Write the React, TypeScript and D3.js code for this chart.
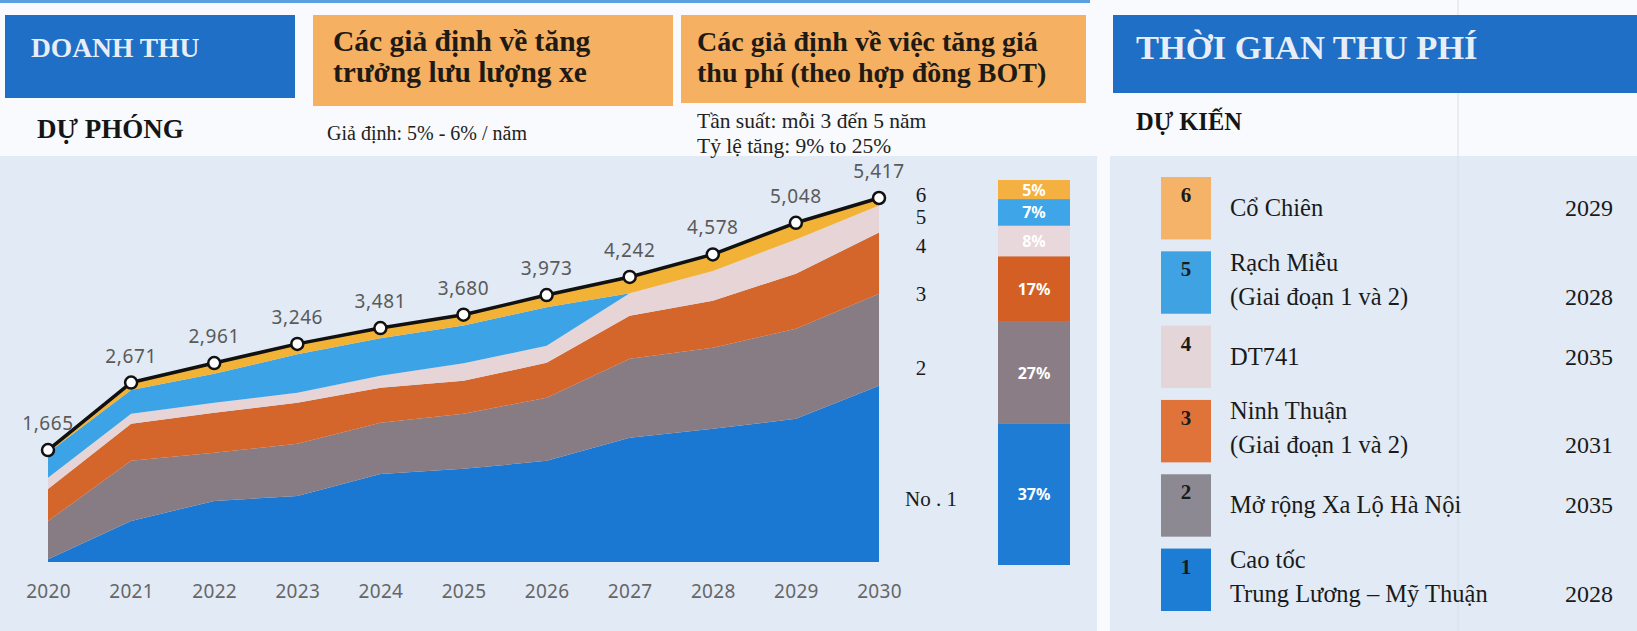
import React, { useEffect, useRef } from "react";
import * as d3 from "d3";

// revenue forecast, stacked by toll project (billion VND)
const years = [2020, 2021, 2022, 2023, 2024, 2025, 2026, 2027, 2028, 2029, 2030];
const totals = [1665, 2671, 2961, 3246, 3481, 3680, 3973, 4242, 4578, 5048, 5417];
const caoToc = [40, 611, 909, 983, 1311, 1386, 1505, 1848, 1982, 2131, 2622];
const xaLo = [571, 894, 715, 775, 760, 819, 939, 1177, 1207, 1341, 1371];
const ninhThuan = [477, 551, 596, 611, 522, 492, 521, 640, 700, 819, 909];
const dt741 = [164, 149, 149, 149, 178, 261, 253, 335, 441, 509, 402];
const rachMieu = [372, 355, 431, 572, 559, 562, 572, 0, 0, 0, 0];
const coChien = [41, 111, 161, 156, 151, 160, 183, 242, 248, 248, 113];

// share of each project (2030 bar), bottom to top
const shareIds = ["1", "2", "3", "4", "5", "6"];
const shares = [37, 27, 17, 8, 7, 5];
const sideLabels = ["No . 1", "2", "3", "4", "5", "6"];

// toll collection schedule (legend on the right)
const projectNames = [
    ["Cổ Chiên"],
    ["Rạch Miễu", "(Giai đoạn 1 và 2)"],
    ["DT741"],
    ["Ninh Thuận", "(Giai đoạn 1 và 2)"],
    ["Mở rộng Xa Lộ Hà Nội"],
    ["Cao tốc", "Trung Lương – Mỹ Thuận"],
];
const projectIds = ["6", "5", "4", "3", "2", "1"];
const projectYears = ["2029", "2028", "2035", "2031", "2035", "2028"];

const keys = ["s1", "s2", "s3", "s4", "s5", "s6"];
const areaColors = ["#1B78D2", "#877C84", "#D4652B", "#E6D4D7", "#3BA3E6", "#F2B236"];
const barColors = ["#1E7CD4", "#8A7D85", "#D35F25", "#E8D8DC", "#3DA5E8", "#F4B040"];
const legendColors: any = { "6": "#F5B36A", "5": "#3FA3E3", "4": "#E4D5D9", "3": "#E0733A", "2": "#8C8992", "1": "#1D7DD4" };

const serif = '"Liberation Serif", "Times New Roman", serif';
const sans = '"Noto Sans", "Open Sans", sans-serif';

function App() {
    const ref = useRef<SVGSVGElement>(null);

    useEffect(() => {
        draw();
    }, []);

    return (
        <div style={{ position: "absolute", left: 0, top: 0 }}>
            <svg ref={ref} width="1637" height="631"></svg>
        </div>
    );

    function draw() {
        var svg = d3.select(ref.current);
        svg.selectAll("*").remove();

        // backgrounds
        svg.append("rect").attr("width", 1637).attr("height", 631).attr("fill", "#F8FAFD");
        svg.append("rect").attr("x", 0).attr("y", 0).attr("width", 1090).attr("height", 3).attr("fill", "#5A9FE0");
        svg.append("rect").attr("x", 0).attr("y", 156).attr("width", 1097).attr("height", 475).attr("fill", "#E1EAF5");
        svg.append("rect").attr("x", 1110).attr("y", 156).attr("width", 527).attr("height", 475).attr("fill", "#E1EAF5");
        svg.append("line").attr("x1", 1458).attr("x2", 1458).attr("y1", 0).attr("y2", 631)
            .attr("stroke", "#D8E0EA").attr("stroke-width", 1);

        // header boxes
        svg.append("rect").attr("x", 5).attr("y", 15).attr("width", 290).attr("height", 83).attr("fill", "#1F6FC6");
        svg.append("rect").attr("x", 313).attr("y", 15).attr("width", 360).attr("height", 91).attr("fill", "#F5B062");
        svg.append("rect").attr("x", 681).attr("y", 15).attr("width", 405).attr("height", 88).attr("fill", "#F5B062");
        svg.append("rect").attr("x", 1113).attr("y", 15).attr("width", 524).attr("height", 78).attr("fill", "#1F6FC6");

        const txt = (s: string, x: number, y: number, size: number, weight: string, fill: string, family = serif) =>
            svg.append("text").attr("x", x).attr("y", y).attr("font-family", family)
                .attr("font-size", size).attr("font-weight", weight).attr("fill", fill).text(s);

        txt("DOANH THU", 31, 57, 27.5, "bold", "#E8EEF7");
        txt("DỰ PHÓNG", 37, 138, 27, "bold", "#151515");
        txt("Các giả định về tăng", 333, 51, 29.5, "bold", "#1F1A14");
        txt("trưởng lưu lượng xe", 333, 82, 29.5, "bold", "#1F1A14");
        txt("Giả định: 5% - 6% / năm", 327, 140, 20, "normal", "#222");
        txt("Các giả định về việc tăng giá", 697, 51, 28, "bold", "#1F1A14");
        txt("thu phí (theo hợp đồng BOT)", 697, 82, 28, "bold", "#1F1A14");
        txt("Tần suất: mỗi 3 đến 5 năm", 697, 128, 21.5, "normal", "#222");
        txt("Tỷ lệ tăng: 9% to 25%", 697, 153, 21.5, "normal", "#222");
        txt("THỜI GIAN THU PHÍ", 1136, 59, 34.5, "bold", "#E8EEF7");
        txt("DỰ KIẾN", 1136, 130, 24.5, "bold", "#151515");

        // stacked area chart
        var x = d3.scaleLinear().domain([2020, 2030]).range([48, 879]);
        var y = d3.scaleLinear().domain([0, 5417]).range([562, 198]);

        var table = years.map((yr, i) => ({
            year: yr, s1: caoToc[i], s2: xaLo[i], s3: ninhThuan[i], s4: dt741[i], s5: rachMieu[i], s6: coChien[i]
        }));
        var series = d3.stack<any>().keys(keys)(table);
        var area = d3.area<any>()
            .x((d: any) => x(d.data.year))
            .y0((d: any) => y(d[0]))
            .y1((d: any) => y(d[1]));

        svg.append("g").selectAll("path")
            .data(series)
            .enter().append("path")
            .attr("fill", (d: any, i: number) => areaColors[i])
            .attr("d", area as any);

        var line = d3.line<number>()
            .x((d, i) => x(years[i]))
            .y((d) => y(d));
        svg.append("path")
            .datum(totals)
            .attr("fill", "none")
            .attr("stroke", "#111")
            .attr("stroke-width", 3.5)
            .attr("stroke-linejoin", "round")
            .attr("d", line);

        svg.append("g").selectAll("circle")
            .data(totals)
            .enter().append("circle")
            .attr("cx", (d, i) => x(years[i]))
            .attr("cy", (d) => y(d))
            .attr("r", 6)
            .attr("fill", "#fff")
            .attr("stroke", "#111")
            .attr("stroke-width", 2.5);

        svg.append("g").selectAll("text")
            .data(totals)
            .enter().append("text")
            .attr("x", (d, i) => x(years[i]))
            .attr("y", (d) => y(d) - 20)
            .attr("text-anchor", "middle")
            .attr("font-family", sans)
            .attr("font-size", 19)
            .attr("letter-spacing", 0.6)
            .attr("fill", "#5A5A5A")
            .text((d) => d3.format(",")(d));

        // x axis
        var axis = svg.append("g")
            .attr("transform", "translate(0, 562)")
            .call(d3.axisBottom(x).tickValues(years).tickFormat(d3.format("d") as any).tickSize(0).tickPadding(23));
        axis.select(".domain").remove();
        axis.selectAll("text")
            .attr("font-family", sans)
            .attr("font-size", 19)
            .attr("letter-spacing", 0.3)
            .attr("fill", "#666");

        // 2030 share bar
        var yb = d3.scaleLinear().domain([0, d3.sum(shares)]).range([565, 180]);
        var cum = d3.cumsum(shares);
        var segs = shares.map((s, i) => ({ id: shareIds[i], v: s, y0: cum[i] - s, y1: cum[i] }));

        svg.append("g").selectAll("rect")
            .data(segs)
            .enter().append("rect")
            .attr("x", 998)
            .attr("width", 72)
            .attr("y", (d) => yb(d.y1))
            .attr("height", (d) => yb(d.y0) - yb(d.y1))
            .attr("fill", (d, i) => barColors[i]);

        svg.append("g").selectAll("text")
            .data(segs)
            .enter().append("text")
            .attr("x", 1034)
            .attr("y", (d) => (yb(d.y0) + yb(d.y1)) / 2 + 6)
            .attr("text-anchor", "middle")
            .attr("font-family", sans)
            .attr("font-weight", "bold")
            .attr("font-size", 16)
            .attr("fill", "#fff")
            .text((d) => d.v + "%");

        svg.append("g").selectAll("text")
            .data(segs)
            .enter().append("text")
            .attr("x", (d, i) => i === 0 ? 931 : 921)
            .attr("y", (d, i) => (yb(d.y0) + yb(d.y1)) / 2 + (i === 1 ? 2 : 12))
            .attr("text-anchor", "middle")
            .attr("font-family", serif)
            .attr("font-size", 21)
            .attr("fill", "#1a1a1a")
            .text((d, i) => sideLabels[i]);

        // legend of toll start years
        var band = d3.scaleBand().domain(projectIds).range([177, 611]).paddingInner(0.16);
        var rows = svg.append("g").selectAll("g")
            .data(projectIds)
            .enter().append("g")
            .attr("transform", (d) => `translate(0, ${band(d)})`);

        rows.append("rect")
            .attr("x", 1161)
            .attr("width", 50)
            .attr("height", band.bandwidth())
            .attr("fill", (d) => legendColors[d]);
        rows.append("text")
            .attr("x", 1186)
            .attr("y", 25)
            .attr("text-anchor", "middle")
            .attr("font-family", serif)
            .attr("font-weight", "bold")
            .attr("font-size", 21)
            .attr("fill", "#1a1a1a")
            .text((d) => d);

        var mid = band.bandwidth() / 2;
        rows.each(function (d, i) {
            var g = d3.select(this);
            var names = projectNames[i];
            var first = names.length === 1 ? mid + 8 : mid - 12;
            names.forEach((n, j) => {
                g.append("text")
                    .attr("x", 1230)
                    .attr("y", first + j * 34)
                    .attr("font-family", serif)
                    .attr("font-size", 24.5)
                    .attr("fill", "#1a1a1a")
                    .text(n);
            });
            g.append("text")
                .attr("x", 1613)
                .attr("y", first + (names.length - 1) * 34)
                .attr("text-anchor", "end")
                .attr("font-family", serif)
                .attr("font-size", 24)
                .attr("fill", "#1a1a1a")
                .text(projectYears[i]);
        });
    }
}

export default App;
